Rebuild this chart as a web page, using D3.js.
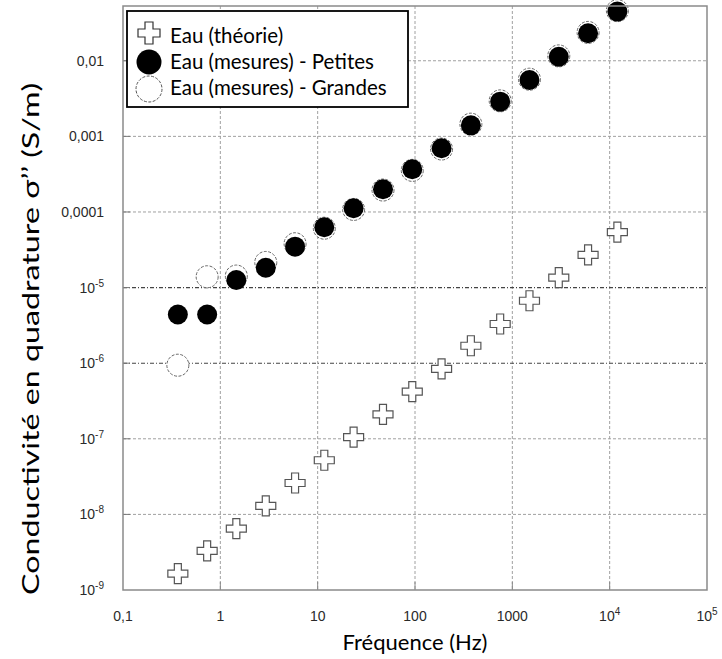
<!DOCTYPE html>
<html><head><meta charset="utf-8">
<script src="https://cdn.jsdelivr.net/npm/d3@7"></script>
<style>body{margin:0;background:#fff}</style></head>
<body><svg id="c" width="722" height="659"></svg>
<script>
// Frequencies (Hz)
const freqs = [0.366,0.732,1.46,2.93,5.86,11.7,23.4,46.9,93.75,187.5,375,750,1500,3000,6000,12000];
// Eau (théorie)
const theory = [1.65e-9,3.3e-9,6.5e-9,1.3e-8,2.6e-8,5.2e-8,1.05e-7,2.1e-7,4.2e-7,8.4e-7,1.7e-6,3.3e-6,6.7e-6,1.35e-5,2.7e-5,5.4e-5];
// Eau (mesures) - Petites
const petites = [4.4e-6,4.4e-6,1.26e-5,1.83e-5,3.48e-5,6.28e-5,1.12e-4,2.0e-4,3.67e-4,6.97e-4,1.4e-3,2.88e-3,5.57e-3,1.13e-2,2.31e-2,4.47e-2];
// Eau (mesures) - Grandes
const grandes = [9.4e-7,1.39e-5,1.42e-5,2.15e-5,3.8e-5,6.1e-5,1.08e-4,1.95e-4,3.55e-4,6.8e-4,1.45e-3,2.95e-3,5.7e-3,1.16e-2,2.37e-2,4.6e-2];

const xTicks = [0.1,1,10,100,1000,1e4,1e5];
const xTickLabels = [["0,1",""],["1",""],["10",""],["100",""],["1000",""],["10","4"],["10","5"]];
const yTicks = [1e-9,1e-8,1e-7,1e-6,1e-5,1e-4,1e-3,1e-2];
const yTickLabels = [["10","-9"],["10","-8"],["10","-7"],["10","-6"],["10","-5"],["0,0001",""],["0,001",""],["0,01",""]];
const darkGrid = [1e-5,1e-6];
const yTopValue = 0.053;

const legendItems = [
  {label:"Eau (théorie)", type:"cross"},
  {label:"Eau (mesures) - Petites", type:"filled"},
  {label:"Eau (mesures) - Grandes", type:"open"}
];

const L=123, R=707, T=6, B=590;
const svg = d3.select("#c");
const x = d3.scaleLog().domain([0.1,1e5]).range([L,R]);
const y = d3.scaleLog().domain([1e-9,yTopValue]).range([B,T]);

function crossPath(a,h){
  return `M${-a},${-h}H${a}V${-a}H${h}V${a}H${a}V${h}H${-a}V${a}H${-h}V${-a}H${-a}Z`;
}

// grid
const g = svg.append("g");
g.selectAll("line.vg").data(xTicks.slice(1,-1)).join("line")
  .attr("x1",d=>x(d)).attr("x2",d=>x(d)).attr("y1",T).attr("y2",B)
  .attr("stroke","#a0a0a0").attr("stroke-width",1).attr("stroke-dasharray","3,2");
g.selectAll("line.hg").data(yTicks.slice(1)).join("line")
  .attr("x1",L).attr("x2",R).attr("y1",d=>y(d)).attr("y2",d=>y(d))
  .attr("stroke",d=>darkGrid.includes(d)?"#444":"#a0a0a0")
  .attr("stroke-width",d=>darkGrid.includes(d)?1.1:1)
  .attr("stroke-dasharray",d=>darkGrid.includes(d)?"4,2,1,2":"3,2");
// inward ticks
g.selectAll("line.xt").data(xTicks.slice(1,-1)).join("line")
  .attr("x1",d=>x(d)).attr("x2",d=>x(d)).attr("y1",B).attr("y2",B-8)
  .attr("stroke","#888").attr("stroke-width",1);
g.selectAll("line.yt").data(yTicks.slice(1)).join("line")
  .attr("x1",L).attr("x2",L+7).attr("y1",d=>y(d)).attr("y2",d=>y(d))
  .attr("stroke","#777").attr("stroke-width",1);

// data
const pts = freqs.map((f,i)=>({f,t:theory[i],p:petites[i],g:grandes[i]}));
svg.append("g").selectAll("path").data(pts).join("path")
  .attr("transform",d=>`translate(${x(d.f)},${y(d.t)})`)
  .attr("d",crossPath(3.5,10)).attr("fill","#fff").attr("stroke","#555").attr("stroke-width",1.2);
svg.append("g").selectAll("circle").data(pts).join("circle")
  .attr("cx",d=>x(d.f)).attr("cy",d=>y(d.g)).attr("r",11)
  .attr("fill","#fff").attr("stroke","#666").attr("stroke-width",1).attr("stroke-dasharray","3,1.5");
svg.append("g").selectAll("circle").data(pts).join("circle")
  .attr("cx",d=>x(d.f)).attr("cy",d=>y(d.p)).attr("r",10).attr("fill","#000");

// frame
svg.append("rect").attr("x",L).attr("y",T).attr("width",R-L).attr("height",B-T)
  .attr("fill","none").attr("stroke","#8a8a8a").attr("stroke-width",1.5);

// tick labels
const tf = "'Liberation Sans', Arial, sans-serif";
const xl = svg.append("g").selectAll("text").data(xTicks).join("text")
  .attr("x",(d)=>x(d)).attr("y",621).attr("text-anchor","middle")
  .attr("font-family",tf).attr("font-size",14).attr("fill","#2a2a2a");
xl.each(function(d,i){
  const t=d3.select(this); const lab=xTickLabels[i];
  t.append("tspan").text(lab[0]);
  if(lab[1]) t.append("tspan").attr("dy",-6).attr("font-size",10).text(lab[1]);
});
const yl = svg.append("g").selectAll("text").data(yTicks).join("text")
  .attr("x",104).attr("y",d=>y(d)+5).attr("text-anchor","end")
  .attr("font-family",tf).attr("font-size",14).attr("fill","#2a2a2a");
yl.each(function(d,i){
  const t=d3.select(this); const lab=yTickLabels[i];
  t.append("tspan").text(lab[0]);
  if(lab[1]) t.append("tspan").attr("dy",-6).attr("font-size",10).text(lab[1]);
});

// axis titles
const af = "Lato, 'Open Sans', sans-serif";
svg.append("text").attr("x",415).attr("y",650).attr("text-anchor","middle")
  .attr("font-family",af).attr("font-size",22).attr("fill","#000").text("Fréquence (Hz)");
svg.append("text").attr("transform",`translate(39,339) rotate(-90)`).attr("text-anchor","middle")
  .attr("font-family",af).attr("font-size",23).attr("fill","#000")
  .attr("textLength",512).attr("lengthAdjust","spacingAndGlyphs")
  .text("Conductivité en quadrature σ’’ (S/m)");

// legend
const lg = svg.append("g");
lg.append("rect").attr("x",127).attr("y",11).attr("width",281).attr("height",96)
  .attr("fill","#fff").attr("stroke","#000").attr("stroke-width",1.8);
const rowY = i=>36+i*26;
legendItems.forEach((it,i)=>{
  const cy=rowY(i), cx=149;
  if(it.type==="cross") lg.append("path").attr("transform",`translate(${cx},${cy-3})`)
    .attr("d",crossPath(4,11)).attr("fill","#fff").attr("stroke","#333").attr("stroke-width",1.2);
  else if(it.type==="filled") lg.append("circle").attr("cx",cx).attr("cy",cy).attr("r",12.5).attr("fill","#000");
  else lg.append("circle").attr("cx",cx).attr("cy",cy+1).attr("r",13).attr("fill","#fff")
    .attr("stroke","#555").attr("stroke-width",1).attr("stroke-dasharray","3,1.5");
  lg.append("text").attr("x",170).attr("y",cy+7).attr("font-family",af).attr("font-size",20.5)
    .attr("fill","#000").text(it.label);
});
</script></body></html>
